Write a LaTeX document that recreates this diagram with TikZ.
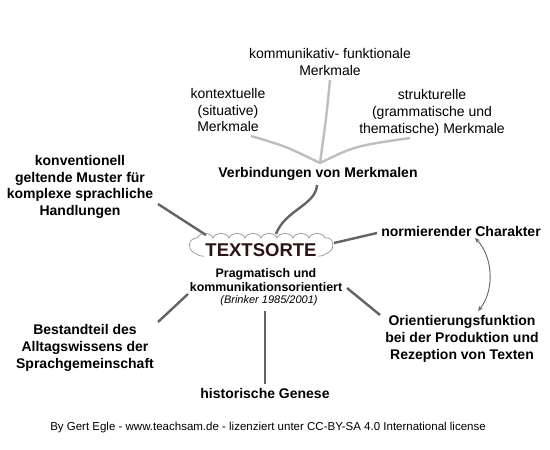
\documentclass[tikz,border=0pt]{standalone}
\usepackage{fontspec}
\setmainfont{Liberation Sans}
\usetikzlibrary{arrows.meta}
\definecolor{darkline}{RGB}{100,100,100}
\definecolor{lightline}{RGB}{190,190,190}
\definecolor{cloudline}{RGB}{150,150,150}
\definecolor{titlecol}{RGB}{45,20,20}
\tikzset{
  lbl/.style={inner sep=0pt, align=center, font=\fontsize{14}{16.8}\selectfont},
  blbl/.style={lbl, font=\fontsize{14}{16.8}\selectfont\bfseries},
  darkcon/.style={draw=darkline, line width=2.4pt},
  lightcon/.style={draw=lightline, line width=2.4pt},
  cloudoutline/.style={draw=cloudline, line width=0.7pt, fill=white},
}
\begin{document}
\begin{tikzpicture}[x=1pt,y=-1pt]
\useasboundingbox[fill=white] (0,0) rectangle (550,450);

% cloud outline
\draw[cloudoutline] (197,238)
  .. controls (199,232) and (211,232) .. (213,238)
  .. controls (215,232) and (227,232) .. (229,238)
  .. controls (231,232) and (243,232) .. (245,238)
  .. controls (247,232) and (259,232) .. (261,238)
  .. controls (263,232) and (275,232) .. (277,238)
  .. controls (279,232) and (291,232) .. (293,238)
  .. controls (295,232) and (307,232) .. (309,238)
  .. controls (311,232) and (323,232) .. (325,238)
  .. controls (335,236) and (336,252) .. (325,254)
  .. controls (323,257) and (311,257) .. (309,254)
  .. controls (307,257) and (295,257) .. (293,254)
  .. controls (291,257) and (279,257) .. (277,254)
  .. controls (275,257) and (263,257) .. (261,254)
  .. controls (259,257) and (247,257) .. (245,254)
  .. controls (243,257) and (231,257) .. (229,254)
  .. controls (227,257) and (215,257) .. (213,254)
  .. controls (211,257) and (199,257) .. (197,254)
  .. controls (187,252) and (187,238) .. cycle;
\coordinate (cloud) at (261,246);
\node[inner sep=1pt, fill=white, font=\fontsize{18.5}{20}\selectfont\bfseries, text=titlecol] (title) at (261,250) {TEXTSORTE};

% text nodes
\node[blbl, font=\fontsize{12.4}{14.8}\selectfont\bfseries, fill=white, inner sep=1pt] (prag) at (266,280) {Pragmatisch und\\kommunikationsorientiert};
\node[inner sep=0pt, font=\fontsize{11}{13}\selectfont\itshape] (brinker) at (269,301) {(Brinker 1985/2001)};

\node[lbl] (kommu) at (330,62) {kommunikativ- funktionale\\Merkmale};
\node[lbl] (kontext) at (228,110) {kontextuelle\\(situative)\\Merkmale};
\node[lbl] (struktur) at (432,113) {strukturelle\\(grammatische und\\thematische) Merkmale};
\node[blbl] (verb) at (318,174) {Verbindungen von Merkmalen};
\node[blbl] (konv) at (80,187) {konventionell\\geltende Muster f\"ur\\komplexe sprachliche\\Handlungen};
\node[blbl] (norm) at (461,231) {normierender Charakter};
\node[blbl] (orient) at (462,339) {Orientierungsfunktion\\bei der Produktion und\\Rezeption von Texten};
\node[blbl] (bestand) at (85,348) {Bestandteil des\\Alltagswissens der\\Sprachgemeinschaft};
\node[blbl] (genese) at (265,393) {historische Genese};
\node[inner sep=0pt, font=\fontsize{11.5}{13}\selectfont] (footer) at (268,428) {By Gert Egle - www.teachsam.de - lizenziert unter CC-BY-SA 4.0 International license};

% connector end points
\coordinate (hub) at (320,163);
\coordinate (kontextE) at (251,136);
\coordinate (kommuE) at (330,80);
\coordinate (strukturE) at (410,138);
\coordinate (verbE) at (317,185);
\coordinate (cloudT) at (276,234);
\coordinate (konvE) at (158,204);
\coordinate (cloudTL) at (206,235);
\coordinate (cloudR) at (334,243);
\coordinate (normE) at (377,233);
\coordinate (pragR) at (347,288);
\coordinate (orientE) at (380,315);
\coordinate (pragL) at (188,294);
\coordinate (bestandE) at (158,322);
\coordinate (brinkerB) at (265,311);
\coordinate (geneseE) at (265,384);
\coordinate (normB) at (475,238);
\coordinate (orientT) at (478,311);

% light connectors
\draw[lightcon] (kontextE) .. controls (285,146) .. (hub);
\draw[lightcon] (kommuE) .. controls (326,120) .. (hub);
\draw[lightcon] (strukturE) .. controls (355,146) .. (hub);

% dark connectors
\draw[darkcon] (verbE) .. controls (316,205) and (285,210) .. (cloudT);
\draw[darkcon] (konvE) -- (cloudTL);
\draw[darkcon] (cloudR) -- (normE);
\draw[darkcon] (pragR) -- (orientE);
\draw[darkcon] (pragL) -- (bestandE);
\draw[darkcon] (brinkerB) -- (geneseE);

% double arrow
\draw[draw=darkline, line width=0.9pt, {Stealth[length=5pt,width=4pt]}-{Stealth[length=5pt,width=4pt]}]
  (normB) .. controls (494,258) and (494,292) .. (orientT);
\end{tikzpicture}
\end{document}
